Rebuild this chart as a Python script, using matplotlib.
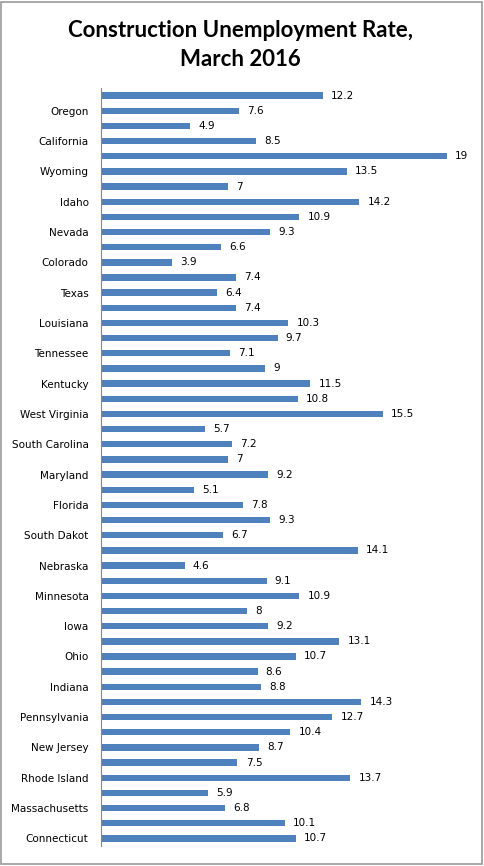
import numpy as np
import matplotlib
matplotlib.use("Agg")
import matplotlib.pyplot as plt
from matplotlib.patches import Rectangle

# states from top to bottom (only every other one is labelled on the chart)
states = ["Washington", "Oregon", "Hawaii", "California", "Alaska", "Wyoming",
          "Montana", "Idaho", "Utah", "Nevada", "Arizona", "Colorado",
          "New Mexico", "Texas", "Oklahoma", "Louisiana", "Arkansas", "Tennessee",
          "Mississippi", "Kentucky", "Alabama", "West Virginia", "Virginia",
          "South Carolina", "North Carolina", "Maryland", "Delaware", "Florida",
          "Georgia", "South Dakot", "North Dakota", "Nebraska", "Kansas",
          "Minnesota", "Missouri", "Iowa", "Wisconsin", "Ohio", "Illinois",
          "Indiana", "Michigan", "Pennsylvania", "New York", "New Jersey",
          "Vermont", "Rhode Island", "New Hampshire", "Massachusetts", "Maine",
          "Connecticut"]
rates = [12.2, 7.6, 4.9, 8.5, 19, 13.5, 7, 14.2, 10.9, 9.3, 6.6, 3.9, 7.4, 6.4,
         7.4, 10.3, 9.7, 7.1, 9, 11.5, 10.8, 15.5, 5.7, 7.2, 7, 9.2, 5.1, 7.8,
         9.3, 6.7, 14.1, 4.6, 9.1, 10.9, 8, 9.2, 13.1, 10.7, 8.6, 8.8, 14.3,
         12.7, 10.4, 8.7, 7.5, 13.7, 5.9, 6.8, 10.1, 10.7]

title = "Construction Unemployment Rate,\nMarch 2016"
bar_color = "#4F81BD"

fig = plt.figure(figsize=(4.84, 8.66), dpi=100)
ax = fig.add_axes([0.2087, 0.0231, 0.752, 0.8753])

y = np.arange(len(states))
ax.barh(y, rates, height=0.42, color=bar_color)
ax.set_ylim(len(states) - 0.5, -0.5)
ax.set_xlim(0, 20)

for yi, v in zip(y, rates):
    ax.text(v + 0.45, yi, f"{v:g}", va="center", ha="left", fontsize=7.5,
            color="#000000")

ax.set_yticks(y[1::2])
ax.set_yticklabels(states[1::2], fontsize=7.5)
ax.tick_params(axis="y", length=0, pad=9)
ax.set_xticks([])
for s in ["top", "right", "bottom"]:
    ax.spines[s].set_visible(False)
ax.spines["left"].set_color("#868686")
ax.spines["left"].set_linewidth(0.8)

fig.text(0.497, 0.977, title, ha="center", va="top", fontsize=16,
         fontweight="bold", family="Lato", linespacing=1.45)

fig.patches.append(Rectangle((0.002, 0.002), 0.994, 0.996, transform=fig.transFigure,
                             fill=False, edgecolor="#9a9a9a", linewidth=1.2))

fig.savefig("out.png", dpi=100)
